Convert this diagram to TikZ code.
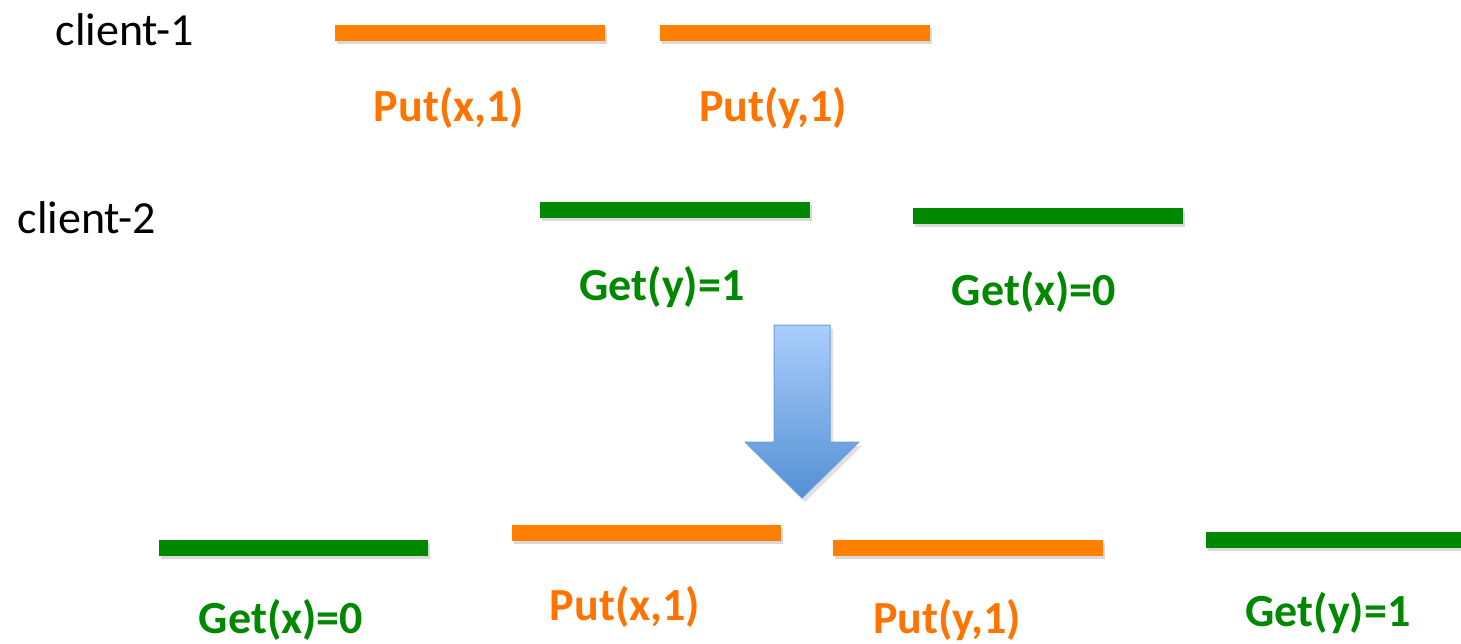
\documentclass[tikz,border=0pt]{standalone}
\usepackage{fontspec}
\setmainfont{Carlito}
\usepackage{tikz}
\usetikzlibrary{shadows, positioning}
\definecolor{putorange}{RGB}{255, 127, 0}
\definecolor{puttext}{RGB}{255, 115, 0}
\definecolor{getgreen}{RGB}{0, 136, 0}
\definecolor{arrowtop}{RGB}{170, 206, 252}
\definecolor{arrowbot}{RGB}{84, 144, 212}
\definecolor{arrowline}{RGB}{110, 158, 216}

\tikzset{
  bar/.style={drop shadow={shadow xshift=1.5pt, shadow yshift=-3pt, opacity=0.3}},
  putbar/.style={bar, fill=putorange},
  getbar/.style={bar, fill=getgreen},
  oplabel/.style={font=\fontsize{46}{54}\selectfont\bfseries, inner sep=0pt},
  putlabel/.style={oplabel, text=puttext},
  getlabel/.style={oplabel, text=getgreen},
  client/.style={font=\fontsize{46}{54}\selectfont, inner sep=0pt}
}

\begin{document}
\begin{tikzpicture}[x=1pt, y=-1pt]
  \useasboundingbox (0, 0) rectangle (1461, 644);

  % the two clients
  \node[client] (c1) at (125, 30) {client-1};
  \node[client] (c2) at (87, 218) {client-2};

  \path[putbar] (335, 25) rectangle (605, 41);
  \path[putbar] (660, 25) rectangle (930, 41);
  \node[putlabel] (p1) at (449, 108) {Put(x,1)};
  \node[putlabel] (p2) at (773, 108) {Put(y,1)};

  \path[getbar] (540, 202) rectangle (810, 218);
  \path[getbar] (913, 208) rectangle (1183, 224);
  \node[getlabel] (g1) at (662, 287) {Get(y)=1};
  \node[getlabel] (g2) at (1034, 292) {Get(x)=0};

  % big arrow down
  \fill[black, opacity=0.12] (776, 329) -- (833, 329) -- (833, 446) -- (862, 446) -- (805, 502) -- (748, 446) -- (776, 446) -- cycle;
  \shade[top color=arrowtop, bottom color=arrowbot, draw=arrowline, line width=1pt]
    (774, 325) -- (830, 325) -- (830, 442) -- (859, 442) -- (802, 498) -- (745, 442) -- (774, 442) -- cycle;

  % one order of the operations
  \path[getbar] (159, 540) rectangle (428, 556);
  \path[putbar] (512, 525) rectangle (781, 541);
  \path[putbar] (833, 540) rectangle (1103, 556);
  \path[getbar] (1206, 532) rectangle (1480, 548);
  \node[getlabel] (s1) at (281, 620) {Get(x)=0};
  \node[putlabel] (s2) at (625, 607) {Put(x,1)};
  \node[putlabel] (s3) at (947, 620) {Put(y,1)};
  \node[getlabel] (s4) at (1328, 613) {Get(y)=1};

\end{tikzpicture}
\end{document}
